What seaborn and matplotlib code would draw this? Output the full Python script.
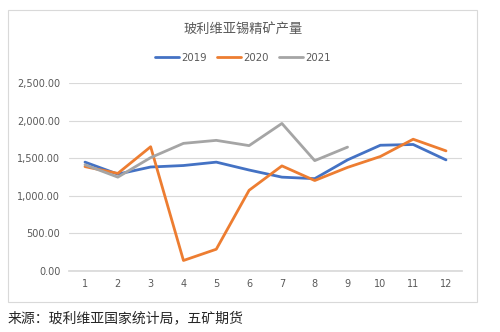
import matplotlib
matplotlib.use("Agg")
import matplotlib.pyplot as plt
import matplotlib.patches as mpatches
import seaborn as sns
import pandas as pd

months = list(range(1, 13))
v2019 = [1450, 1290, 1385, 1405, 1450, 1345, 1250, 1230, 1480, 1675, 1685, 1480]
v2020 = [1390, 1300, 1655, 140, 290, 1075, 1400, 1205, 1380, 1525, 1755, 1600]
v2021 = [1415, 1250, 1510, 1700, 1740, 1670, 1965, 1470, 1650]
series_names = ["2019", "2020", "2021"]
colors = ["#4472C4", "#ED7D31", "#A5A5A5"]
yticks = [0, 500, 1000, 1500, 2000, 2500]

rows = []
for name, vals in zip(series_names, [v2019, v2020, v2021]):
    for m, v in zip(months, vals):
        rows.append({"month": m, "value": v, "year": name})
df = pd.DataFrame(rows)

sns.set_theme(style="white")
plt.rcParams['font.family'] = ['Noto Sans CJK SC', 'DejaVu Sans']

fig = plt.figure(figsize=(5, 3.32), dpi=100)
ax = fig.add_axes([68.6/500, 1-271/332, (462.4-68.6)/500, (271-83.3)/332])

sns.lineplot(data=df, x="month", y="value", hue="year", palette=colors,
             hue_order=series_names, sort=False, linewidth=2.0, ax=ax, legend=False)

ax.set_xlim(0.5, 12.5)
ax.set_ylim(0, 2500)
ax.set_yticks(yticks)
ax.set_yticklabels([f"{t:,.2f}" for t in yticks])
ax.set_xticks(months)
ax.set_xticklabels([str(m) for m in months])
ax.tick_params(axis='both', length=0, labelsize=7, colors="#595959", pad=6)
for lab in ax.get_xticklabels() + ax.get_yticklabels():
    lab.set_fontfamily(['DejaVu Sans'])
ax.grid(axis='y', color="#D9D9D9", linewidth=0.8)
ax.set_axisbelow(True)
for s in ["top", "right", "left"]:
    ax.spines[s].set_visible(False)
ax.spines["bottom"].set_color("#D9D9D9")
ax.set_xlabel("")
ax.set_ylabel("")

# chart border
fig.patches.append(mpatches.Rectangle((8/500, 1-302/332), (477-8)/500, (302-10)/332,
                                      transform=fig.transFigure, fill=False,
                                      edgecolor="#D9D9D9", linewidth=0.8))

fig.text(243/500, 1-30/332, "玻利维亚锡精矿产量", ha="center", va="center",
         fontsize=9.5, color="#595959")

# legend
handles = [plt.Line2D([], [], color=c, linewidth=2.0) for c in colors]
fig.legend(handles, series_names, loc="center", bbox_to_anchor=(243/500, 1-58/332),
           ncol=3, frameon=False, handlelength=2.4, columnspacing=1.0,
           handletextpad=0.2, labelcolor="#595959",
           prop={'family': ['DejaVu Sans'], 'size': 7.3})

fig.text(8/500, 1-318/332, "来源：玻利维亚国家统计局，五矿期货", ha="left", va="center",
         fontsize=10, color="#262626")

fig.savefig("out.png", dpi=100)
